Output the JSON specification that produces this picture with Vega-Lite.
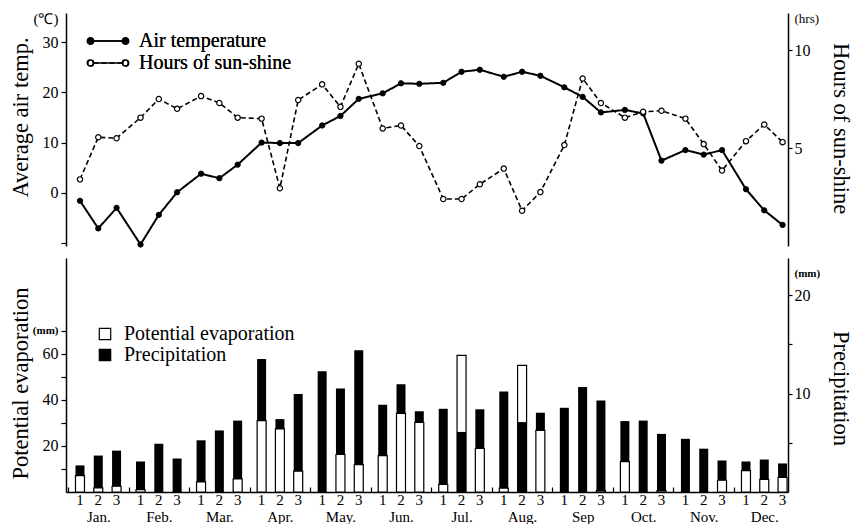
{
  "$schema": "https://vega.github.io/schema/vega-lite/v6.json",
  "background": "white",
  "padding": {"left": 8, "top": 11, "right": 5, "bottom": 0},
  "config": {
    "font": "Liberation Serif",
    "view": {"stroke": null},
    "axis": {"domainColor": "black", "domainWidth": 1.5, "tickColor": "black", "tickWidth": 1.2, "labelColor": "black", "titleColor": "black", "grid": false, "labelFont": "Liberation Serif", "titleFont": "Liberation Serif", "labelFontSize": 16, "titleFontSize": 22.5, "titleFontWeight": "normal"},
    "legend": {"labelFont": "Liberation Serif", "labelFontSize": 20, "labelColor": "black", "padding": 0, "labelLimit": 0}
  },
  "datasets": {
    "d": [
      {"month": "Jan.", "d": 1, "temp": -1.6, "sun": 3.4, "evap": 7.1, "prec": 2.7},
      {"month": "Jan.", "d": 2, "temp": -7.1, "sun": 5.55, "evap": 1.8, "prec": 3.7},
      {"month": "Jan.", "d": 3, "temp": -3.0, "sun": 5.5, "evap": 2.5, "prec": 4.2},
      {"month": "Feb.", "d": 1, "temp": -10.3, "sun": 6.55, "evap": 1.0, "prec": 3.1},
      {"month": "Feb.", "d": 2, "temp": -4.4, "sun": 7.5, "evap": 0.0, "prec": 4.9},
      {"month": "Feb.", "d": 3, "temp": 0.1, "sun": 7.0, "evap": 0.0, "prec": 3.4},
      {"month": "Mar.", "d": 1, "temp": 3.8, "sun": 7.65, "evap": 4.4, "prec": 5.25},
      {"month": "Mar.", "d": 2, "temp": 2.9, "sun": 7.3, "evap": 0.0, "prec": 6.25},
      {"month": "Mar.", "d": 3, "temp": 5.6, "sun": 6.55, "evap": 5.7, "prec": 7.25},
      {"month": "Apr.", "d": 1, "temp": 10.0, "sun": 6.5, "evap": 31.0, "prec": 13.5},
      {"month": "Apr.", "d": 2, "temp": 9.9, "sun": 2.95, "evap": 27.4, "prec": 7.4},
      {"month": "Apr.", "d": 3, "temp": 9.9, "sun": 7.45, "evap": 9.1, "prec": 9.95},
      {"month": "May.", "d": 1, "temp": 13.4, "sun": 8.25, "evap": 0.0, "prec": 12.25},
      {"month": "May.", "d": 2, "temp": 15.3, "sun": 7.1, "evap": 16.3, "prec": 10.5},
      {"month": "May.", "d": 3, "temp": 18.7, "sun": 9.3, "evap": 11.9, "prec": 14.4},
      {"month": "Jun.", "d": 1, "temp": 19.8, "sun": 6.0, "evap": 15.8, "prec": 8.85},
      {"month": "Jun.", "d": 2, "temp": 21.8, "sun": 6.15, "evap": 34.2, "prec": 10.95},
      {"month": "Jun.", "d": 3, "temp": 21.7, "sun": 5.1, "evap": 30.3, "prec": 8.2},
      {"month": "Jul.", "d": 1, "temp": 21.9, "sun": 2.4, "evap": 3.3, "prec": 8.45},
      {"month": "Jul.", "d": 2, "temp": 24.1, "sun": 2.4, "evap": 59.4, "prec": 6.1},
      {"month": "Jul.", "d": 3, "temp": 24.5, "sun": 3.15, "evap": 18.9, "prec": 8.4},
      {"month": "Aug.", "d": 1, "temp": 23.1, "sun": 3.95, "evap": 1.7, "prec": 10.2},
      {"month": "Aug.", "d": 2, "temp": 24.1, "sun": 1.8, "evap": 55.0, "prec": 7.1},
      {"month": "Aug.", "d": 3, "temp": 23.3, "sun": 2.75, "evap": 26.8, "prec": 8.05},
      {"month": "Sep", "d": 1, "temp": 21.0, "sun": 5.15, "evap": 0.0, "prec": 8.55},
      {"month": "Sep", "d": 2, "temp": 19.1, "sun": 8.55, "evap": 0.0, "prec": 10.65},
      {"month": "Sep", "d": 3, "temp": 16.0, "sun": 7.3, "evap": 0.6, "prec": 9.3},
      {"month": "Oct.", "d": 1, "temp": 16.5, "sun": 6.55, "evap": 13.2, "prec": 7.2},
      {"month": "Oct.", "d": 2, "temp": 15.8, "sun": 6.85, "evap": 0.0, "prec": 7.25},
      {"month": "Oct.", "d": 3, "temp": 6.4, "sun": 6.9, "evap": 0.6, "prec": 5.9},
      {"month": "Nov.", "d": 1, "temp": 8.5, "sun": 6.5, "evap": 0.0, "prec": 5.4},
      {"month": "Nov.", "d": 2, "temp": 7.6, "sun": 5.2, "evap": 0.0, "prec": 4.4},
      {"month": "Nov.", "d": 3, "temp": 8.5, "sun": 3.85, "evap": 5.1, "prec": 3.2},
      {"month": "Dec.", "d": 1, "temp": 0.7, "sun": 5.35, "evap": 9.3, "prec": 3.1},
      {"month": "Dec.", "d": 2, "temp": -3.5, "sun": 6.2, "evap": 5.5, "prec": 3.3},
      {"month": "Dec.", "d": 3, "temp": -6.4, "sun": 5.3, "evap": 6.3, "prec": 2.9}
    ]
  },
  "spacing": 12,
  "bounds": "flush",
  "resolve": {"scale": {"fill": "independent"}},
  "vconcat": [
    {
      "width": 722,
      "height": 233,
      "data": {"name": "d"},
      "resolve": {"scale": {"y": "independent"}},
      "layer": [
        {
          "layer": [
            {
              "mark": {"type": "line", "color": "black", "strokeWidth": 2},
              "encoding": {
                "x": {"field": "month", "type": "nominal", "sort": null, "scale": {"paddingInner": 0.247, "paddingOuter": 0.086, "align": 0.91}, "axis": null},
                "xOffset": {"field": "d", "type": "nominal", "scale": {"paddingInner": 0.508, "paddingOuter": 0}},
                "y": {"field": "temp", "type": "quantitative", "scale": {"domain": [-10.6, 35.8], "nice": false, "zero": false},
                  "axis": {"orient": "left", "values": [-10, 0, 10, 20, 30, 34.8], "labelExpr": "datum.value > 34 ? '(℃)' : (datum.value < -5 ? '' : datum.label)", "tickOpacity": {"condition": {"test": "datum.value > 34", "value": 0}, "value": 1}, "labelFontSize": {"condition": {"test": "datum.value > 34", "value": 15}, "value": 16}, "tickSize": 5, "labelPadding": 3, "title": "Average air temp.", "titleX": -46, "titleY": 104, "titleAngle": -90, "titleBaseline": "middle", "titleAlign": "center"}},
                "strokeDash": {"datum": "Air temperature", "scale": {"domain": ["Air temperature", "Hours of sun-shine"], "range": [[1, 0], [5, 3]]},
                  "legend": {"title": null, "orient": "none", "legendX": 31, "legendY": 17, "symbolType": "M-1.45,0L1.45,0M-1.45,0A0.3,0.3,0,1,1,-2.05,0A0.3,0.3,0,1,1,-1.45,0M2.05,0A0.3,0.3,0,1,1,1.45,0A0.3,0.3,0,1,1,2.05,0", "symbolSize": 400, "symbolStrokeColor": "black", "symbolStrokeWidth": 1.6, "labelOffset": 20, "rowPadding": 1}},
                "order": {"value": null}
              }
            },
            {
              "mark": {"type": "point", "filled": true, "stroke": "black", "strokeWidth": 1, "size": 28, "opacity": 1},
              "encoding": {
                "x": {"field": "month", "type": "nominal", "sort": null, "scale": {"paddingInner": 0.247, "paddingOuter": 0.086, "align": 0.91}, "axis": null},
                "xOffset": {"field": "d", "type": "nominal", "scale": {"paddingInner": 0.508, "paddingOuter": 0}},
                "y": {"field": "temp", "type": "quantitative"},
                "fill": {"datum": "Air temperature", "scale": {"domain": ["Air temperature", "Hours of sun-shine"], "range": ["black", "white"]},
                  "legend": {"title": null, "orient": "none", "legendX": 31, "legendY": 17, "symbolType": "M-1.45,0L1.45,0M-1.45,0A0.3,0.3,0,1,1,-2.05,0A0.3,0.3,0,1,1,-1.45,0M2.05,0A0.3,0.3,0,1,1,1.45,0A0.3,0.3,0,1,1,2.05,0", "symbolSize": 400, "symbolStrokeColor": "black", "symbolStrokeWidth": 1.6, "labelOffset": 20, "rowPadding": 1}}
              }
            }
          ]
        },
        {
          "layer": [
            {
              "mark": {"type": "line", "color": "black", "strokeWidth": 1.6},
              "encoding": {
                "x": {"field": "month", "type": "nominal", "sort": null, "scale": {"paddingInner": 0.247, "paddingOuter": 0.086, "align": 0.91}, "axis": null},
                "xOffset": {"field": "d", "type": "nominal", "scale": {"paddingInner": 0.508, "paddingOuter": 0}},
                "y": {"field": "sun", "type": "quantitative", "scale": {"domain": [0, 11.89], "nice": false, "zero": false},
                  "axis": {"orient": "right", "values": [5, 10, 11.63], "labelExpr": "datum.value > 11 ? '(hrs)' : datum.label", "tickOpacity": {"condition": {"test": "datum.value > 11", "value": 0}, "value": 1}, "labelFontSize": {"condition": {"test": "datum.value > 11", "value": 13}, "value": 16}, "tickSize": 4, "labelPadding": 2, "title": "Hours of sun-shine", "titleX": 52, "titleY": 115, "titleAngle": 90, "titleBaseline": "middle", "titleAlign": "center"}},
                "strokeDash": {"datum": "Hours of sun-shine", "scale": {"domain": ["Air temperature", "Hours of sun-shine"], "range": [[1, 0], [5, 3]]},
                  "legend": {"title": null, "orient": "none", "legendX": 31, "legendY": 17, "symbolType": "M-1.45,0L1.45,0M-1.45,0A0.3,0.3,0,1,1,-2.05,0A0.3,0.3,0,1,1,-1.45,0M2.05,0A0.3,0.3,0,1,1,1.45,0A0.3,0.3,0,1,1,2.05,0", "symbolSize": 400, "symbolStrokeColor": "black", "symbolStrokeWidth": 1.6, "labelOffset": 20, "rowPadding": 1}},
                "order": {"value": null}
              }
            },
            {
              "mark": {"type": "point", "filled": true, "stroke": "black", "strokeWidth": 1.2, "size": 28, "opacity": 1},
              "encoding": {
                "x": {"field": "month", "type": "nominal", "sort": null, "scale": {"paddingInner": 0.247, "paddingOuter": 0.086, "align": 0.91}, "axis": null},
                "xOffset": {"field": "d", "type": "nominal", "scale": {"paddingInner": 0.508, "paddingOuter": 0}},
                "y": {"field": "sun", "type": "quantitative"},
                "fill": {"datum": "Hours of sun-shine", "scale": {"domain": ["Air temperature", "Hours of sun-shine"], "range": ["black", "white"]},
                  "legend": {"title": null, "orient": "none", "legendX": 31, "legendY": 17, "symbolType": "M-1.45,0L1.45,0M-1.45,0A0.3,0.3,0,1,1,-2.05,0A0.3,0.3,0,1,1,-1.45,0M2.05,0A0.3,0.3,0,1,1,1.45,0A0.3,0.3,0,1,1,2.05,0", "symbolSize": 400, "symbolStrokeColor": "black", "symbolStrokeWidth": 1.6, "labelOffset": 20, "rowPadding": 1}}
              }
            }
          ]
        }
      ]
    },
    {
      "width": 722,
      "height": 234,
      "data": {"name": "d"},
      "resolve": {"scale": {"y": "independent"}},
      "layer": [
        {
          "mark": {"type": "bar"},
          "encoding": {
            "x": {"field": "month", "type": "nominal", "sort": null, "scale": {"paddingInner": 0.247, "paddingOuter": 0.086, "align": 0.91},
              "axis": {"title": null, "labelAngle": 0, "tickOffset": -30.3, "labelOffset": 30.3, "tickSize": -5, "labelPadding": 22, "labelFontSize": 15}},
            "xOffset": {"field": "d", "type": "nominal", "scale": {"paddingInner": 0.508, "paddingOuter": 0}},
            "y": {"field": "prec", "type": "quantitative", "scale": {"domain": [0, 23.76], "nice": false},
              "axis": {"orient": "right", "values": [5, 10, 15, 20, 22.2], "labelExpr": "datum.value > 21 ? '(mm)' : (datum.value % 10 == 0 ? datum.label : '')", "tickOpacity": {"condition": {"test": "datum.value > 21", "value": 0}, "value": 1}, "labelFontSize": {"condition": {"test": "datum.value > 21", "value": 11}, "value": 16}, "labelFontWeight": {"condition": {"test": "datum.value > 21", "value": "bold"}, "value": "normal"}, "tickSize": 4, "labelPadding": 2, "title": "Precipitation", "titleX": 52, "titleY": 130, "titleAngle": 90, "titleBaseline": "middle", "titleAlign": "center"}},
            "fill": {"datum": "Precipitation", "scale": {"domain": ["Potential evaporation", "Precipitation"], "range": ["white", "black"]},
              "legend": {"title": null, "orient": "none", "legendX": 29, "legendY": 66, "symbolType": "square", "symbolSize": 130, "symbolStrokeColor": "black", "symbolStrokeWidth": 1.2, "labelOffset": 9, "rowPadding": 1}}
          }
        },
        {
          "mark": {"type": "bar", "stroke": "black", "strokeWidth": 1.2},
          "encoding": {
            "x": {"field": "month", "type": "nominal", "sort": null, "scale": {"paddingInner": 0.247, "paddingOuter": 0.086, "align": 0.91}},
            "xOffset": {"field": "d", "type": "nominal", "scale": {"paddingInner": 0.508, "paddingOuter": 0}},
            "y": {"field": "evap", "type": "quantitative", "scale": {"domain": [0, 101.7], "nice": false},
              "axis": {"orient": "left", "values": [10, 20, 30, 40, 50, 60, 70], "labelExpr": "datum.value == 70 ? '(mm)' : (datum.value % 20 == 0 ? datum.label : '')", "labelFontSize": {"condition": {"test": "datum.value == 70", "value": 11}, "value": 16}, "labelFontWeight": {"condition": {"test": "datum.value == 70", "value": "bold"}, "value": "normal"}, "tickSize": 5, "labelPadding": 3, "title": "Potential evaporation", "titleX": -46, "titleY": 125, "titleAngle": -90, "titleBaseline": "middle", "titleAlign": "center"}},
            "fill": {"datum": "Potential evaporation", "scale": {"domain": ["Potential evaporation", "Precipitation"], "range": ["white", "black"]},
              "legend": {"title": null, "orient": "none", "legendX": 29, "legendY": 66, "symbolType": "square", "symbolSize": 130, "symbolStrokeColor": "black", "symbolStrokeWidth": 1.2, "labelOffset": 9, "rowPadding": 1}}
          }
        },
        {
          "transform": [{"filter": "datum.prec * 9.85 < datum.evap * 2.3"}],
          "mark": {"type": "bar"},
          "encoding": {
            "x": {"field": "month", "type": "nominal", "sort": null, "scale": {"paddingInner": 0.247, "paddingOuter": 0.086, "align": 0.91}},
            "xOffset": {"field": "d", "type": "nominal", "scale": {"paddingInner": 0.508, "paddingOuter": 0}},
            "y": {"field": "prec", "type": "quantitative", "scale": {"domain": [0, 23.76], "nice": false}, "axis": null},
            "fill": {"datum": "Precipitation", "scale": {"domain": ["Potential evaporation", "Precipitation"], "range": ["white", "black"]},
              "legend": {"title": null, "orient": "none", "legendX": 29, "legendY": 66, "symbolType": "square", "symbolSize": 130, "symbolStrokeColor": "black", "symbolStrokeWidth": 1.2, "labelOffset": 9, "rowPadding": 1}}
          }
        },
        {
          "mark": {"type": "text", "baseline": "middle", "dy": 8, "fontSize": 15, "color": "black"},
          "encoding": {
            "x": {"field": "month", "type": "nominal", "sort": null, "scale": {"paddingInner": 0.247, "paddingOuter": 0.086, "align": 0.91}},
            "xOffset": {"field": "d", "type": "nominal", "scale": {"paddingInner": 0.508, "paddingOuter": 0}},
            "y": {"datum": 0, "type": "quantitative", "scale": {"domain": [0, 1]}, "axis": null},
            "text": {"field": "d", "type": "nominal"}
          }
        }
      ]
    }
  ]
}
